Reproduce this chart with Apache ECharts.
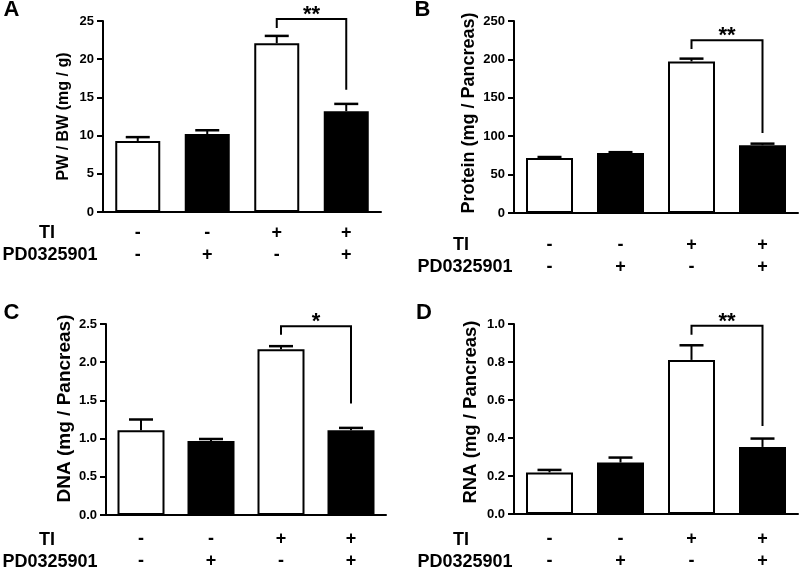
<!DOCTYPE html>
<html><head><meta charset="utf-8">
<script src="https://cdn.jsdelivr.net/npm/echarts@6/dist/echarts.min.js"></script>
<style>html,body{margin:0;padding:0;background:#fff}#c{width:800px;height:572px}</style>
</head><body><div id="c"></div>
<script>
// ---- data ----
const tiRow = ['-', '-', '+', '+'];
const pdRow = ['-', '+', '-', '+'];
const barFill = ['#ffffff', '#000000', '#ffffff', '#000000'];

const pwbwMean = [9.3, 10.2, 22.1, 13.2];
const pwbwSem = [0.5, 0.5, 0.95, 0.95];
const proteinMean = [71.7, 78.2, 197.4, 88.3];
const proteinSem = [1.2, 1.0, 3.6, 2.0];
const dnaMean = [1.11, 0.97, 2.17, 1.11];
const dnaSem = [0.14, 0.025, 0.04, 0.03];
const rnaMean = [0.219, 0.271, 0.811, 0.353];
const rnaSem = [0.013, 0.026, 0.077, 0.044];

// significance brackets: [fromIdx, toIdx, level, leftEnd, rightEnd]
const pwbwSig = [2, 3, 25.26, 24.1, 16.0];
const proteinSig = [2, 3, 225, 213.5, 104.3];
const dnaSig = [2, 3, 2.47, 2.36, 1.46];
const rnaSig = [2, 3, 0.991, 0.944, 0.463];
const sigLabels = ['**', '**', '*', '**'];

const axisNames = ['PW / BW (mg / g)', 'Protein (mg / Pancreas)', 'DNA (mg / Pancreas)', 'RNA (mg / Pancreas)'];
const panelLetters = ['A', 'B', 'C', 'D'];
const rowNames = ['TI', 'PD0325901'];
const yMax = [25, 250, 2.5, 1.0];
const yStep = [5, 50, 0.5, 0.2];
const yDecimals = [0, 0, 1, 1];

// ---- layout ----
const FONT = '"Liberation Sans", Arial, Helvetica, sans-serif';
const panels = [
  {mean: pwbwMean, sem: pwbwSem, sig: pwbwSig, grid: {left: 103, top: 21, width: 278, height: 191},
   barW: 45, labelMargin: 10, nameSize: 16, nameGap: 31, namePad: 0,
   letter: [11.5, 10], rowTI: [47, 233], rowPD: [50, 255]},
  {mean: proteinMean, sem: proteinSem, sig: proteinSig, grid: {left: 514, top: 21, width: 284, height: 192},
   barW: 47, labelMargin: 21, nameSize: 18, nameGap: 36, namePad: 8,
   letter: [422.5, 10], rowTI: [461, 245], rowPD: [465, 267]},
  {mean: dnaMean, sem: dnaSem, sig: dnaSig, grid: {left: 106, top: 324, width: 280, height: 192},
   barW: 47, labelMargin: 13, nameSize: 19, nameGap: 32, namePad: 22,
   letter: [11.5, 313], rowTI: [47, 540], rowPD: [50, 562]},
  {mean: rnaMean, sem: rnaSem, sig: rnaSig, grid: {left: 514, top: 324, width: 284, height: 191},
   barW: 47, labelMargin: 14, nameSize: 18.5, nameGap: 34, namePad: 14,
   letter: [424, 313], rowTI: [461, 540], rowPD: [465, 562]}
];

const categories = tiRow.map((t, i) => t + '\n' + pdRow[i]);

const grids = [], xAxes = [], yAxes = [], series = [], graphics = [];

panels.forEach((p, k) => {
  grids.push(p.grid);
  xAxes.push({
    type: 'category', gridIndex: k, data: categories,
    axisLine: {lineStyle: {color: '#000', width: 2}},
    axisTick: {alignWithLabel: true, length: 6, lineStyle: {color: '#000', width: 2}},
    axisLabel: {color: '#000', fontSize: 18, fontWeight: 'bold', fontFamily: FONT,
      lineHeight: 22, margin: p.labelMargin, interval: 0},
    splitLine: {show: false}
  });
  yAxes.push({
    type: 'value', gridIndex: k, min: 0, max: yMax[k], interval: yStep[k],
    name: axisNames[k], nameLocation: 'middle', nameRotate: 90, nameGap: p.nameGap,
    nameTextStyle: {color: '#000', fontSize: p.nameSize, fontWeight: 'bold', fontFamily: FONT,
      padding: [0, 0, 0, p.namePad]},
    axisLine: {show: true, lineStyle: {color: '#000', width: 2}},
    axisTick: {show: true, length: 6, lineStyle: {color: '#000', width: 2}},
    axisLabel: {color: '#000', fontSize: 13, fontWeight: 'bold', fontFamily: FONT, margin: 9,
      formatter: v => v.toFixed(yDecimals[k])},
    splitLine: {show: false}
  });
  series.push({
    type: 'bar', xAxisIndex: k, yAxisIndex: k, barWidth: p.barW,
    data: p.mean.map((m, i) => ({value: m, itemStyle: {color: barFill[i], borderColor: '#000', borderWidth: 2}})),
    z: 2, animation: false
  });
  series.push({
    type: 'custom', xAxisIndex: k, yAxisIndex: k, z: 3, animation: false, clip: false,
    encode: {x: 0, y: [1, 2]},
    data: p.mean.map((m, i) => [i, m, m + p.sem[i]]),
    renderItem: function (params, api) {
      const a = api.coord([api.value(0), api.value(1)]);
      const b = api.coord([api.value(0), api.value(2)]);
      const half = 12;
      return {type: 'group', children: [
        {type: 'line', shape: {x1: a[0], y1: a[1], x2: b[0], y2: b[1]}, style: {stroke: '#000', lineWidth: 2}},
        {type: 'line', shape: {x1: b[0] - half, y1: b[1], x2: b[0] + half, y2: b[1]}, style: {stroke: '#000', lineWidth: 2.5}}
      ]};
    }
  });
  series.push({
    type: 'custom', xAxisIndex: k, yAxisIndex: k, z: 3, animation: false, clip: false,
    encode: {x: 0, y: 2},
    data: [p.sig],
    renderItem: function (params, api) {
      const l0 = api.coord([api.value(0), api.value(3)]);
      const l1 = api.coord([api.value(0), api.value(2)]);
      const r1 = api.coord([api.value(1), api.value(2)]);
      const r0 = api.coord([api.value(1), api.value(4)]);
      return {type: 'group', children: [
        {type: 'polyline', shape: {points: [l0, l1, r1, r0]}, style: {stroke: '#000', lineWidth: 2, fill: null}},
        {type: 'text', style: {x: (l1[0] + r1[0]) / 2, y: l1[1] - 4, text: sigLabels[k],
          align: 'center', verticalAlign: 'middle', fill: '#000', fontSize: 22, fontWeight: 'bold', fontFamily: FONT}}
      ]};
    }
  });
  graphics.push({type: 'text', x: p.letter[0], y: p.letter[1],
    style: {text: panelLetters[k], fill: '#000', fontSize: 22, fontWeight: 'bold', fontFamily: FONT,
      align: 'center', verticalAlign: 'middle'}});
  graphics.push({type: 'text', x: p.rowTI[0], y: p.rowTI[1],
    style: {text: rowNames[0], fill: '#000', fontSize: 18, fontWeight: 'bold', fontFamily: FONT,
      align: 'center', verticalAlign: 'middle'}});
  graphics.push({type: 'text', x: p.rowPD[0], y: p.rowPD[1],
    style: {text: rowNames[1], fill: '#000', fontSize: 18, fontWeight: 'bold', fontFamily: FONT,
      align: 'center', verticalAlign: 'middle'}});
});

const chart = echarts.init(document.getElementById('c'), null, {renderer: 'canvas'});
chart.setOption({
  backgroundColor: '#ffffff',
  animation: false,
  grid: grids, xAxis: xAxes, yAxis: yAxes, series: series, graphic: graphics
});
</script>
</body></html>
